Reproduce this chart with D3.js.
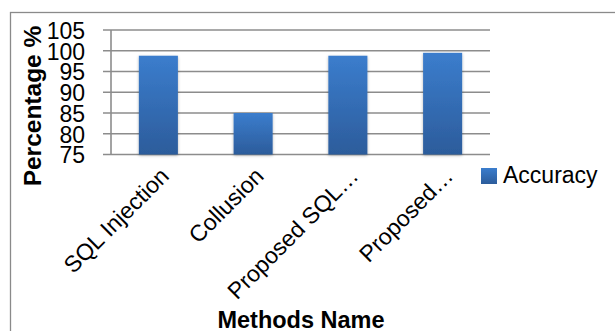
<!DOCTYPE html>
<html>
<head>
<meta charset="utf-8">
<script src="https://cdn.jsdelivr.net/npm/d3@7"></script>
<style>
  html, body { margin: 0; padding: 0; background: #fff; }
  svg { display: block; font-family: "Liberation Sans", Arial, sans-serif; }
</style>
</head>
<body>
<svg id="chart" width="615" height="331"></svg>
<script>
const categories = ["SQL Injection", "Collusion", "Proposed SQL\u2026", "Proposed\u2026"];
const accuracy = [98.8, 85, 98.8, 99.5];
const yTicks = [75, 80, 85, 90, 95, 100, 105];
const seriesName = "Accuracy";
const yTitle = "Percentage %";
const xTitle = "Methods Name";

const svg = d3.select("#chart");
const defs = svg.append("defs");

const grad = defs.append("linearGradient")
  .attr("id", "barGrad").attr("x1", 0).attr("y1", 0).attr("x2", 0).attr("y2", 1);
grad.append("stop").attr("offset", "0%").attr("stop-color", "#3b7dcd");
grad.append("stop").attr("offset", "100%").attr("stop-color", "#2c5c9b");

const shadow = defs.append("filter").attr("id", "shadow")
  .attr("x", "-30%").attr("y", "-10%").attr("width", "160%").attr("height", "130%");
shadow.append("feDropShadow").attr("dx", 0).attr("dy", 1).attr("stdDeviation", 1.6)
  .attr("flood-color", "#000").attr("flood-opacity", 0.3);

// outer frame
svg.append("rect").attr("x", 10.5).attr("y", 12.5).attr("width", 700).attr("height", 400)
  .attr("fill", "none").attr("stroke", "#8a8a8a").attr("stroke-width", 1.3);

const plot = { left: 111, right: 490, top: 30, bottom: 154.5 };

const x = d3.scaleBand().domain(categories)
  .range([plot.left, plot.right]).paddingInner(0.588).paddingOuter(0.294);
const y = d3.scaleLinear().domain([75, 105]).range([plot.bottom, plot.top]);

// gridlines
svg.append("g").selectAll("line").data(yTicks).join("line")
  .attr("x1", plot.left - 8).attr("x2", plot.right)
  .attr("y1", d => y(d)).attr("y2", d => y(d))
  .attr("stroke", "#8c8c8c").attr("stroke-width", 1.6);

// y axis line
svg.append("line").attr("x1", plot.left).attr("x2", plot.left)
  .attr("y1", y(105)).attr("y2", y(75))
  .attr("stroke", "#8c8c8c").attr("stroke-width", 1.6);

// y tick labels
const yAxis = d3.axisLeft(y).tickValues(yTicks).tickSize(0).tickPadding(0);
const yg = svg.append("g").attr("transform", `translate(85,0)`).call(yAxis);
yg.select(".domain").remove();
yg.selectAll("text").attr("font-size", 23).attr("fill", "#000")
  .attr("font-family", "Liberation Sans, Arial, sans-serif").attr("dy", "0.36em");

// bars
svg.append("g").selectAll("rect").data(categories).join("rect")
  .attr("x", d => x(d)).attr("width", x.bandwidth())
  .attr("y", (d, i) => y(accuracy[i]))
  .attr("height", (d, i) => y(75) - y(accuracy[i]))
  .attr("fill", "url(#barGrad)").attr("filter", "url(#shadow)");

// x labels rotated
svg.append("g").selectAll("text").data(categories).join("text")
  .attr("transform", d => `translate(${x(d) + x.bandwidth() / 2 + 12},${plot.bottom + 23}) rotate(-45)`)
  .attr("text-anchor", "end").attr("font-size", 23).attr("fill", "#000")
  .text(d => d);

// axis titles
svg.append("text").attr("transform", `translate(41,106) rotate(-90)`)
  .attr("text-anchor", "middle").attr("font-size", 24.5).attr("font-weight", "bold")
  .text(yTitle);
svg.append("text").attr("x", 301).attr("y", 328)
  .attr("text-anchor", "middle").attr("font-size", 23.5).attr("font-weight", "bold")
  .text(xTitle);

// legend
const lg = svg.append("g").attr("transform", "translate(481,168)");
lg.append("rect").attr("width", 16).attr("height", 16).attr("fill", "url(#barGrad)");
lg.append("text").attr("x", 22).attr("y", 15).attr("font-size", 23).text(seriesName);
</script>
</body>
</html>
